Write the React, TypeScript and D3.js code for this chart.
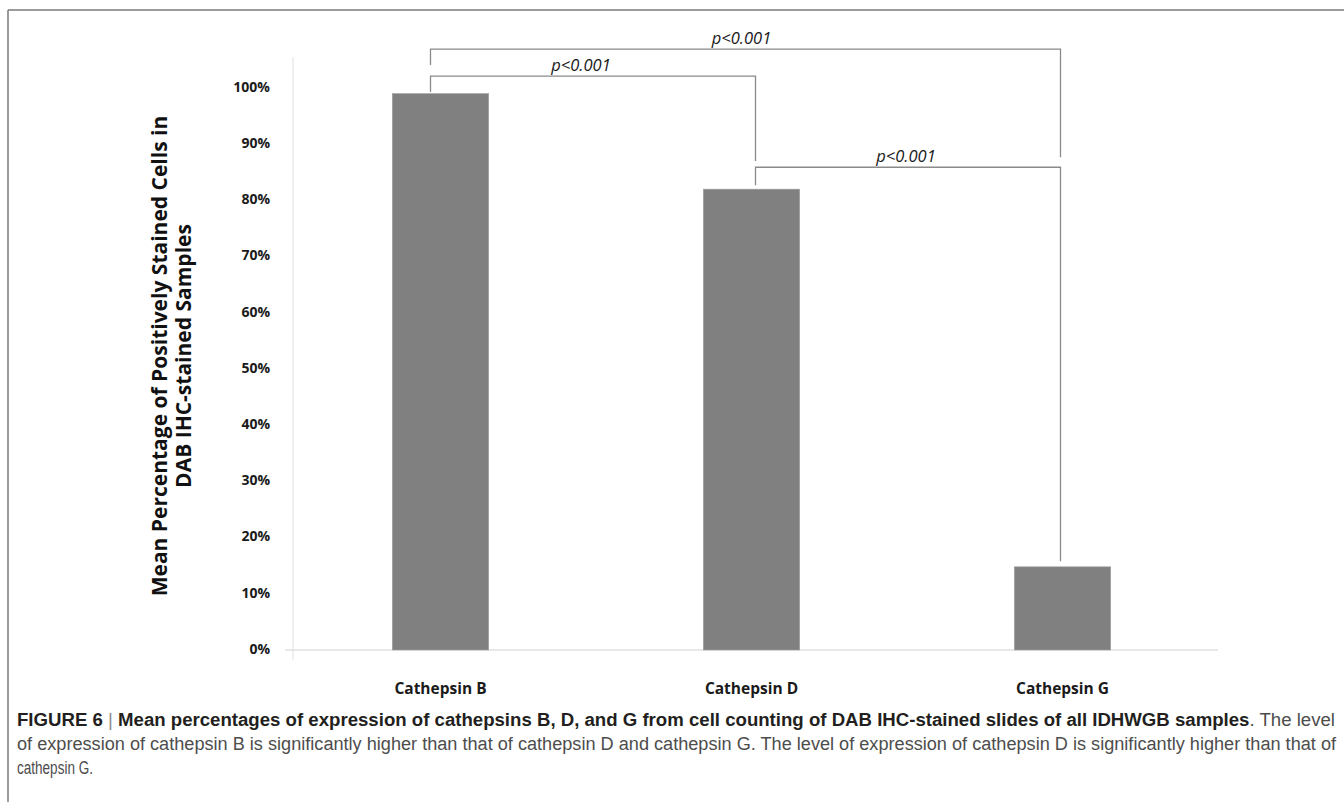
import React from 'react'
import * as d3 from 'd3'

// values
const categories = ['Cathepsin B', 'Cathepsin D', 'Cathepsin G']
const meanPercent = [0.99, 0.82, 0.148]
const yTicks = [0, 0.1, 0.2, 0.3, 0.4, 0.5, 0.6, 0.7, 0.8, 0.9, 1.0]

// significance brackets: [left category, right category]
const bracketPairs = [
  ['Cathepsin B', 'Cathepsin G'],
  ['Cathepsin B', 'Cathepsin D'],
  ['Cathepsin D', 'Cathepsin G'],
]
const bracketLabels = ['p<0.001', 'p<0.001', 'p<0.001']
// bracket heights in % units: top bar, left leg end, right leg end
const bracketTop = [1.069, 1.021, 0.859]
const bracketLeftEnd = [1.041, 0.993, 0.827]
const bracketRightEnd = [0.877, 0.870, 0.158]

const captionBold = 'Mean percentages of expression of cathepsins B, D, and G from cell counting of DAB IHC-stained slides of all IDHWGB samples'
const captionLine1Rest = '. The level'
const captionLine2 = 'of expression of cathepsin B is significantly higher than that of cathepsin D and cathepsin G. The level of expression of cathepsin D is significantly higher than that of'
const captionLine3 = 'cathepsin G.'

const W = 1344
const H = 802
const chartFont = "'Open Sans', 'Liberation Sans', sans-serif"
const captionFont = "'Liberation Sans Narrow', 'Liberation Sans', Arial, sans-serif"

export default function App () {
  const x = d3.scaleBand()
    .domain(categories)
    .range([285, 1218])
    .paddingInner(0.69)
    .paddingOuter(0.345)

  const y = d3.scaleLinear()
    .domain([0, 1])
    .range([650, 88])

  const fmt = d3.format('.0%')
  const cx = (c) => (x(c) as number) + x.bandwidth() / 2
  // where the bracket legs sit relative to each bar's centre
  const legShift = { 'Cathepsin B': -10, 'Cathepsin D': 4, 'Cathepsin G': -2 }
  const labelShift = [-4, -12, -2]

  return (
    <svg width={W} height={H} style={{ position: 'absolute', left: 0, top: 0 }}>
      <rect x={0} y={0} width={W} height={H} fill='#fff' />
      {/* frame */}
      <line x1={8} x2={W} y1={10} y2={10} stroke='#7a7a7a' strokeWidth={1.5} />
      <line x1={8} x2={8} y1={10} y2={H} stroke='#7a7a7a' strokeWidth={1.5} />

      {/* axes */}
      <line x1={293} x2={293} y1={57} y2={660} stroke='#e0e0e0' strokeWidth={1} />
      <line x1={x.range()[0]} x2={x.range()[1]} y1={y(0)} y2={y(0)} stroke='#e0e0e0' strokeWidth={1.5} />

      {yTicks.map(t => (
        <text key={t} x={270} y={y(t)} textAnchor='end' dominantBaseline='middle'
          fontFamily={chartFont} fontWeight='bold' fontSize={14} fill='#1a1a1a'>
          {fmt(t)}
        </text>
      ))}

      {categories.map((c, i) => (
        <rect key={c} x={x(c)} y={y(meanPercent[i])} width={x.bandwidth()}
          height={y(0) - y(meanPercent[i])} fill='#808080' stroke='#a0a0a0' strokeWidth={0.6} />
      ))}

      {categories.map(c => (
        <text key={c} x={cx(c)} y={694} textAnchor='middle'
          fontFamily={chartFont} fontWeight='bold' fontSize={15.5} fill='#1a1a1a'>
          {c}
        </text>
      ))}

      {/* y title */}
      <g transform='translate(171, 356) rotate(-90)' fontFamily={chartFont} fontWeight='bold'
        fontSize={21} fill='#111' textAnchor='middle'>
        <text x={0} y={-4}>Mean Percentage of Positively Stained Cells in</text>
        <text x={0} y={20}>DAB IHC-stained Samples</text>
      </g>

      {/* significance brackets */}
      {bracketPairs.map((pair, i) => {
        const x1 = cx(pair[0]) + legShift[pair[0]]
        const x2 = cx(pair[1]) + legShift[pair[1]]
        const top = y(bracketTop[i])
        const path = d3.path()
        path.moveTo(x1, y(bracketLeftEnd[i]))
        path.lineTo(x1, top)
        path.lineTo(x2, top)
        path.lineTo(x2, y(bracketRightEnd[i]))
        const mid = (x1 + x2) / 2 + labelShift[i]
        return (
          <g key={i}>
            <path d={path.toString()} fill='none' stroke='#8a8a8a' strokeWidth={1.3} />
            <text x={mid} y={top - 5} textAnchor='middle'
              fontFamily={chartFont} fontStyle='italic' fontSize={16.5} fill='#1a1a1a'>
              {bracketLabels[i]}
            </text>
          </g>
        )
      })}

      {/* caption */}
      <text x={17} y={726} fontFamily={captionFont} fontSize={18} textLength={1318}
        lengthAdjust='spacingAndGlyphs'>
        <tspan fontWeight='bold' fill='#231f20'>FIGURE 6 </tspan>
        <tspan fill='#888'>|</tspan>
        <tspan fontWeight='bold' fill='#231f20'> {captionBold}</tspan>
        <tspan fill='#4d4d4d'>{captionLine1Rest}</tspan>
      </text>
      <text x={17} y={750} fontFamily={captionFont} fontSize={18} fill='#4d4d4d'
        textLength={1319} lengthAdjust='spacingAndGlyphs'>
        {captionLine2}
      </text>
      <text x={17} y={774} fontFamily={captionFont} fontSize={18} fill='#4d4d4d'
        textLength={76} lengthAdjust='spacingAndGlyphs'>
        {captionLine3}
      </text>
    </svg>
  )
}
